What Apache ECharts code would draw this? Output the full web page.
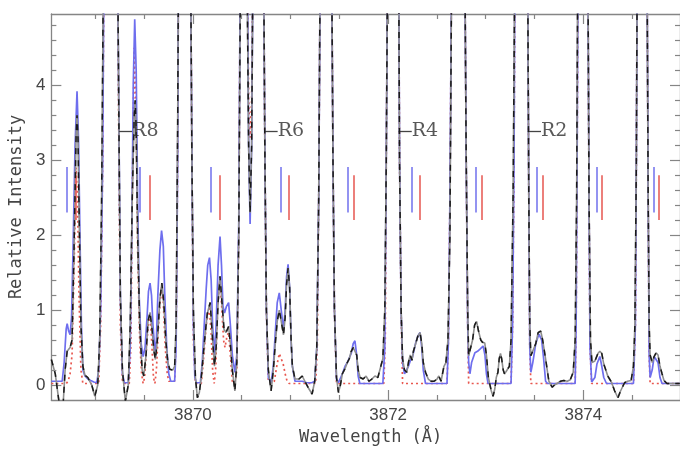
<!DOCTYPE html>
<html><head><meta charset="utf-8">
<script src="https://cdn.jsdelivr.net/npm/echarts@6/dist/echarts.min.js"></script>
<style>html,body{margin:0;padding:0;background:#fff}#c{width:680px;height:451px}</style>
</head><body><div id="c"></div>
<script>
// Observed spectrum (black)
const blackWave = [3868.550,3868.590,3868.631,3868.671,3868.691,3868.712,3868.742,3868.762,3868.782,3868.803,3868.813,3868.823,3868.838,3868.853,3868.873,3868.894,3868.924,3868.944,3868.964,3868.995,3869.025,3869.045,3869.065,3869.086,3869.156,3869.227,3869.242,3869.257,3869.278,3869.308,3869.338,3869.358,3869.379,3869.399,3869.409,3869.419,3869.434,3869.455,3869.480,3869.497,3869.520,3869.540,3869.561,3869.581,3869.601,3869.616,3869.636,3869.662,3869.682,3869.702,3869.722,3869.743,3869.763,3869.793,3869.813,3869.828,3869.844,3869.854,3869.914,3869.975,3869.990,3870.005,3870.026,3870.046,3870.066,3870.086,3870.106,3870.127,3870.147,3870.177,3870.197,3870.221,3870.238,3870.258,3870.278,3870.298,3870.319,3870.339,3870.366,3870.384,3870.404,3870.430,3870.450,3870.470,3870.487,3870.521,3870.551,3870.571,3870.586,3870.602,3870.617,3870.672,3870.723,3870.738,3870.753,3870.773,3870.801,3870.824,3870.844,3870.864,3870.885,3870.905,3870.928,3870.945,3870.960,3870.975,3870.991,3871.006,3871.019,3871.046,3871.087,3871.120,3871.147,3871.188,3871.221,3871.248,3871.269,3871.289,3871.306,3871.365,3871.420,3871.435,3871.450,3871.471,3871.491,3871.511,3871.531,3871.559,3871.582,3871.602,3871.622,3871.642,3871.660,3871.678,3871.693,3871.713,3871.744,3871.774,3871.804,3871.834,3871.865,3871.895,3871.925,3871.946,3871.966,3871.981,3871.996,3872.052,3872.107,3872.117,3872.133,3872.148,3872.168,3872.191,3872.208,3872.226,3872.244,3872.259,3872.282,3872.304,3872.327,3872.345,3872.360,3872.383,3872.411,3872.441,3872.471,3872.501,3872.519,3872.542,3872.572,3872.592,3872.613,3872.633,3872.653,3872.721,3872.784,3872.800,3872.815,3872.825,3872.845,3872.865,3872.886,3872.906,3872.926,3872.949,3872.966,3872.990,3873.007,3873.027,3873.040,3873.057,3873.075,3873.093,3873.108,3873.125,3873.138,3873.151,3873.163,3873.179,3873.192,3873.209,3873.242,3873.259,3873.280,3873.300,3873.366,3873.428,3873.441,3873.451,3873.462,3873.482,3873.512,3873.537,3873.563,3873.583,3873.613,3873.647,3873.681,3873.704,3873.731,3873.765,3873.798,3873.835,3873.866,3873.896,3873.916,3873.931,3873.944,3873.994,3874.045,3874.058,3874.073,3874.088,3874.118,3874.149,3874.169,3874.189,3874.209,3874.230,3874.250,3874.287,3874.321,3874.354,3874.381,3874.422,3874.452,3874.489,3874.513,3874.528,3874.543,3874.553,3874.601,3874.651,3874.664,3874.674,3874.684,3874.705,3874.725,3874.745,3874.765,3874.785,3874.806,3874.826,3874.856,3874.988];
const blackFlux = [0.34,0.15,-0.25,-0.25,0.2,0.45,0.5,0.6,1.8,3.3,3.6,3.3,2.0,0.8,0.25,0.13,0.1,0.08,0.0,-0.15,0.0,0.6,2.5,6,12,6,3.5,1.2,0.2,-0.22,0.0,0.8,2.5,3.6,3.8,3.4,2.0,0.8,0.2,0.12,0.4,0.85,0.97,0.75,0.45,0.34,0.6,1.15,1.36,1.1,0.6,0.3,0.21,0.2,0.25,0.8,3.5,6,12,6,3.0,1.0,0.1,-0.17,-0.1,0.1,0.4,0.7,0.95,1.1,0.7,0.25,0.5,1.1,1.45,1.1,0.74,0.7,0.78,0.55,0.2,-0.08,0.3,2.0,5.5,10,6,3.2,2.3,3.2,6,12,6,3.0,1.0,0.2,-0.08,0.2,0.55,0.85,1.0,0.85,0.67,0.9,1.35,1.56,1.3,0.6,0.25,0.08,0.08,0.12,0.05,-0.05,-0.12,0.05,0.5,2.5,6,12,6,3.0,1.0,0.1,-0.1,0.0,0.15,0.22,0.3,0.35,0.45,0.5,0.52,0.4,0.2,0.1,0.08,0.12,0.05,0.08,0.12,0.1,0.25,0.35,1.0,3.0,6,12,6,3.0,1.0,0.35,0.2,0.17,0.3,0.4,0.33,0.45,0.55,0.65,0.7,0.55,0.3,0.17,0.08,0.05,0.05,0.08,0.12,0.05,0.25,0.3,0.6,2.0,6,12,6,3.0,1.0,0.39,0.4,0.6,0.8,0.85,0.72,0.6,0.57,0.56,0.4,0.1,0.02,-0.08,-0.15,-0.05,0.1,0.17,0.35,0.42,0.35,0.2,0.15,0.18,0.25,0.6,2.5,6,12,6,2.5,0.8,0.39,0.4,0.55,0.7,0.72,0.6,0.35,0.05,-0.03,0.0,0.02,0.05,0.06,0.05,0.07,0.17,0.6,2.5,6,12,6,2.5,0.6,0.3,0.32,0.42,0.45,0.42,0.28,0.2,0.12,0.04,-0.08,-0.17,-0.08,0.03,0.05,0.06,0.25,0.8,3.0,6,12,6,2.5,0.8,0.4,0.3,0.38,0.43,0.4,0.25,0.15,0.06,0.02,0.02];

// Model (blue)
const blueWave = [3868.550,3868.661,3868.681,3868.702,3868.712,3868.727,3868.742,3868.757,3868.772,3868.793,3868.813,3868.828,3868.843,3868.858,3868.873,3868.894,3868.924,3868.954,3868.985,3869.015,3869.035,3869.055,3869.076,3869.091,3869.156,3869.227,3869.242,3869.257,3869.278,3869.298,3869.338,3869.358,3869.374,3869.389,3869.404,3869.419,3869.434,3869.449,3869.470,3869.490,3869.510,3869.530,3869.545,3869.561,3869.576,3869.591,3869.611,3869.626,3869.641,3869.662,3869.679,3869.697,3869.712,3869.732,3869.753,3869.773,3869.813,3869.828,3869.844,3869.854,3869.914,3869.975,3869.990,3870.005,3870.020,3870.036,3870.076,3870.096,3870.116,3870.137,3870.152,3870.170,3870.187,3870.202,3870.221,3870.238,3870.258,3870.278,3870.293,3870.308,3870.324,3870.344,3870.366,3870.384,3870.404,3870.430,3870.450,3870.470,3870.487,3870.521,3870.556,3870.571,3870.586,3870.602,3870.617,3870.672,3870.723,3870.738,3870.753,3870.773,3870.801,3870.824,3870.844,3870.864,3870.885,3870.905,3870.928,3870.945,3870.960,3870.975,3870.991,3871.006,3871.019,3871.046,3871.120,3871.168,3871.218,3871.248,3871.269,3871.289,3871.306,3871.365,3871.420,3871.435,3871.450,3871.471,3871.491,3871.511,3871.531,3871.559,3871.582,3871.602,3871.622,3871.642,3871.660,3871.678,3871.693,3871.710,3871.946,3871.966,3871.981,3871.996,3872.052,3872.107,3872.117,3872.133,3872.148,3872.168,3872.188,3872.208,3872.229,3872.249,3872.282,3872.304,3872.327,3872.345,3872.360,3872.383,3872.603,3872.618,3872.633,3872.653,3872.721,3872.784,3872.800,3872.815,3872.825,3872.838,3872.855,3872.889,3872.916,3872.941,3872.973,3872.992,3873.007,3873.024,3873.259,3873.275,3873.290,3873.300,3873.366,3873.428,3873.441,3873.451,3873.462,3873.482,3873.512,3873.545,3873.573,3873.593,3873.613,3873.633,3873.916,3873.926,3873.936,3873.947,3873.994,3874.045,3874.058,3874.068,3874.085,3874.118,3874.139,3874.169,3874.189,3874.209,3874.237,3874.513,3874.533,3874.543,3874.553,3874.601,3874.651,3874.664,3874.674,3874.684,3874.705,3874.725,3874.745,3874.765,3874.785,3874.806,3874.988];
const blueFlux = [0.05,0.05,0.3,0.75,0.82,0.72,0.67,0.9,1.8,3.2,3.92,3.3,2.0,0.8,0.2,0.12,0.08,0.06,0.04,0.03,0.2,1.0,3.0,6,12,6,3.5,1.2,0.15,0.03,0.03,0.5,2.0,4.0,4.88,4.2,2.5,1.2,0.55,0.38,0.5,0.9,1.25,1.36,1.2,0.8,0.45,0.6,1.2,1.8,2.06,1.85,1.2,0.5,0.15,0.05,0.05,0.5,3.0,6,12,6,3.0,0.8,0.1,0.03,0.03,0.3,0.8,1.3,1.6,1.7,1.4,0.8,0.39,0.8,1.6,1.98,1.6,1.05,0.96,1.05,1.1,0.8,0.4,0.17,0.4,2.2,6,10,6,3.2,2.15,3.2,6,12,6,3.0,1.0,0.1,0.03,0.25,0.7,1.1,1.23,1.0,0.74,1.0,1.45,1.61,1.3,0.6,0.25,0.05,0.05,0.03,0.03,0.05,0.5,2.5,6,12,6,3.0,1.0,0.08,0.03,0.05,0.15,0.25,0.3,0.28,0.42,0.55,0.59,0.4,0.12,0.02,0.02,0.5,3.0,6,12,6,3.0,1.0,0.3,0.15,0.15,0.25,0.33,0.37,0.56,0.65,0.7,0.5,0.2,0.02,0.02,0.6,2.5,6,12,6,3.0,0.8,0.3,0.15,0.3,0.43,0.45,0.48,0.52,0.4,0.15,0.02,0.02,0.8,3.0,6,12,6,2.5,0.5,0.17,0.3,0.55,0.68,0.6,0.35,0.05,0.02,0.02,0.8,3.0,6,12,6,2.5,0.5,0.04,0.1,0.28,0.38,0.25,0.1,0.02,0.02,0.8,3.0,6,12,6,2.5,0.4,0.1,0.2,0.38,0.4,0.3,0.1,0.02,0.02];

// Second model (red dotted)
const redWave = [3868.550,3868.702,3868.722,3868.742,3868.762,3868.782,3868.803,3868.818,3868.833,3868.853,3868.873,3869.035,3869.055,3869.076,3869.091,3869.156,3869.227,3869.242,3869.257,3869.278,3869.298,3869.348,3869.364,3869.379,3869.399,3869.419,3869.434,3869.455,3869.475,3869.490,3869.505,3869.530,3869.551,3869.566,3869.581,3869.596,3869.611,3869.626,3869.652,3869.677,3869.697,3869.717,3869.737,3869.753,3869.813,3869.828,3869.844,3869.854,3869.914,3869.975,3869.990,3870.005,3870.026,3870.086,3870.106,3870.137,3870.167,3870.187,3870.202,3870.218,3870.233,3870.253,3870.273,3870.293,3870.314,3870.329,3870.349,3870.366,3870.384,3870.404,3870.430,3870.450,3870.470,3870.487,3870.521,3870.556,3870.571,3870.586,3870.602,3870.617,3870.672,3870.723,3870.738,3870.753,3870.773,3870.804,3870.834,3870.859,3870.885,3870.905,3870.925,3870.945,3870.965,3870.986,3871.258,3871.274,3871.289,3871.306,3871.365,3871.420,3871.435,3871.450,3871.471,3871.956,3871.971,3871.981,3871.996,3872.052,3872.107,3872.117,3872.133,3872.148,3872.603,3872.618,3872.633,3872.653,3872.721,3872.784,3872.800,3872.815,3872.825,3873.259,3873.275,3873.290,3873.300,3873.366,3873.428,3873.441,3873.451,3873.462,3873.916,3873.926,3873.936,3873.947,3873.994,3874.045,3874.058,3874.068,3874.085,3874.513,3874.533,3874.543,3874.553,3874.601,3874.651,3874.664,3874.674,3874.684,3874.988];
const redFlux = [0.02,0.02,0.05,0.15,0.4,1.5,2.9,2.5,1.2,0.2,0.02,0.02,0.8,3,6,12,6,3,0.8,0.05,0.02,0.02,0.5,2.5,4.5,3.6,1.8,0.6,0.15,0.02,0.1,0.6,0.9,0.85,0.5,0.1,0.02,0.2,0.9,1.3,1.1,0.5,0.15,0.05,0.05,0.6,3,6,12,6,3,0.6,0.02,0.02,0.3,0.8,1.05,0.7,0.2,0.02,0.2,1.0,1.4,1.1,0.6,0.5,0.65,0.7,0.4,0.05,0.02,0.2,2,6,10,6,3.8,3.3,3.8,6,12,6,3,1.0,0.05,0.02,0.05,0.25,0.42,0.4,0.28,0.15,0.05,0.02,0.02,0.5,2.5,6,12,6,3,1.0,0.02,0.02,0.6,3,6,12,6,3,1.0,0.02,0.02,0.6,2.5,6,12,6,3,0.8,0.02,0.02,0.8,3,6,12,6,2.5,0.5,0.02,0.02,0.8,3,6,12,6,2.5,0.5,0.02,0.02,0.8,3,6,12,6,2.5,0.4,0.02,0.02];

// Line-position markers
const blueTickWave = [3868.712,3869.460,3870.184,3870.895,3871.582,3872.246,3872.896,3873.522,3874.136,3874.725];
const redTickWave  = [3868.803,3869.561,3870.278,3870.979,3871.650,3872.320,3872.963,3873.586,3874.186,3874.768];
const blueTickRange = [2.30, 2.91];
const redTickRange  = [2.20, 2.80];

// Line identifications
const labelText = ['R8','R6','R4','R2'];
const labelWave = [3869.242,3870.733,3872.107,3873.431];
const labelLevel = 3.39;

// Axes
const xMin = 3868.55, xMax = 3874.99, yMin = -0.2, yMax = 4.95;
const xMajor = [3870, 3872, 3874];
const xMinor = [3869, 3869.5, 3870.5, 3871, 3871.5, 3872.5, 3873, 3873.5, 3874.5];
const yMajor = [0, 1, 2, 3, 4];
const yMinor = [0.2,0.4,0.6,0.8,1.2,1.4,1.6,1.8,2.2,2.4,2.6,2.8,3.2,3.4,3.6,3.8,4.2,4.4,4.6,4.8];

const zip = (a, b) => a.map((v, i) => [v, b[i]]);
const axisCol = '#858585';
const dashLen = 0.135;

const chart = echarts.init(document.getElementById('c'), null, {renderer: 'canvas'});

function xAx(pos, ticks, len, showLine, showLabel) {
  return {
    type: 'value', min: xMin, max: xMax, position: pos, gridIndex: 0,
    axisLine: {show: showLine, onZero: false, lineStyle: {color: axisCol, width: 1.3}},
    axisTick: {show: true, inside: true, length: len, customValues: ticks, lineStyle: {color: axisCol, width: 1.2}},
    axisLabel: showLabel ? {show: true, customValues: xMajor, color: '#454545', fontSize: 17, fontFamily: 'Liberation Sans', margin: 7, formatter: v => String(v)} : {show: false},
    splitLine: {show: false}
  };
}
function yAx(pos, ticks, len, showLine, showLabel) {
  return {
    type: 'value', min: yMin, max: yMax, position: pos, gridIndex: 0,
    axisLine: {show: showLine, onZero: false, lineStyle: {color: axisCol, width: 1.3}},
    axisTick: {show: true, inside: true, length: len, customValues: ticks, lineStyle: {color: axisCol, width: 1.2}},
    axisLabel: showLabel ? {show: true, customValues: yMajor, color: '#454545', fontSize: 17, fontFamily: 'Liberation Sans', margin: 6} : {show: false},
    splitLine: {show: false}
  };
}

const xAxes = [xAx('bottom', xMajor, 10, true, true), xAx('bottom', xMinor, 5, false, false), xAx('top', xMajor, 10, true, false), xAx('top', xMinor, 5, false, false)];
Object.assign(xAxes[0], {name: 'Wavelength (Å)', nameLocation: 'middle', nameGap: 29,
  nameTextStyle: {fontFamily: 'DejaVu Sans Mono', fontSize: 17, color: '#454545', padding: [0, 0, 0, 10]}});
const yAxes = [yAx('left', yMajor, 10, true, true), yAx('left', yMinor, 5, false, false), yAx('right', yMajor, 10, true, false), yAx('right', yMinor, 5, false, false)];
Object.assign(yAxes[0], {name: 'Relative Intensity', nameLocation: 'middle', nameGap: 25, nameRotate: 90,
  nameTextStyle: {fontFamily: 'DejaVu Sans Mono', fontSize: 17, color: '#454545'}});

const lineBase = {type: 'line', xAxisIndex: 0, yAxisIndex: 0, showSymbol: false, symbol: 'none', clip: true, animation: false, silent: true};

chart.setOption({
  animation: false,
  backgroundColor: '#ffffff',
  grid: {left: 49, top: 14, width: 637, height: 386, containLabel: false},
  xAxis: xAxes,
  yAxis: yAxes,
  series: [
    Object.assign({}, lineBase, {name: 'model2', data: zip(redWave, redFlux), z: 2,
      lineStyle: {color: '#e8574f', width: 1.7, type: [2, 3]}}),
    Object.assign({}, lineBase, {name: 'model', data: zip(blueWave, blueFlux), z: 3,
      lineStyle: {color: '#6e6eee', width: 1.7}}),
    Object.assign({}, lineBase, {name: 'obs', data: zip(blackWave, blackFlux), z: 4,
      lineStyle: {color: '#8e8e8e', width: 1.6}}),
    Object.assign({}, lineBase, {name: 'obs-dash', data: zip(blackWave, blackFlux), z: 5,
      lineStyle: {color: '#1a1a1a', width: 1.5, type: [6, 6]}}),
    Object.assign({}, lineBase, {name: 'ticks', data: [], z: 6,
      markLine: {silent: true, symbol: 'none', animation: false, label: {show: false},
        data: blueTickWave.map(w => [{coord: [w, blueTickRange[0]], lineStyle: {color: '#7878ee', width: 1.6, type: 'solid'}}, {coord: [w, blueTickRange[1]]}])
          .concat(redTickWave.map(w => [{coord: [w, redTickRange[0]], lineStyle: {color: '#e8605a', width: 1.6, type: 'solid'}}, {coord: [w, redTickRange[1]]}]))}}),
    {type: 'scatter', xAxisIndex: 0, yAxisIndex: 0, silent: true, animation: false, z: 7,
      symbolSize: 0,
      data: labelWave.map((w, i) => ({value: [w + dashLen, labelLevel], name: labelText[i]})),
      label: {show: true, position: 'right', distance: 0, formatter: p => p.name,
        fontFamily: 'DejaVu Serif', fontSize: 19, color: '#2e2e2e'},
      markLine: {silent: true, symbol: 'none', animation: false, label: {show: false},
        lineStyle: {color: '#444444', width: 1.3, type: 'solid'},
        data: labelWave.map(w => [{coord: [w, labelLevel]}, {coord: [w + dashLen, labelLevel]}])}}
  ]
});
</script>
</body></html>
